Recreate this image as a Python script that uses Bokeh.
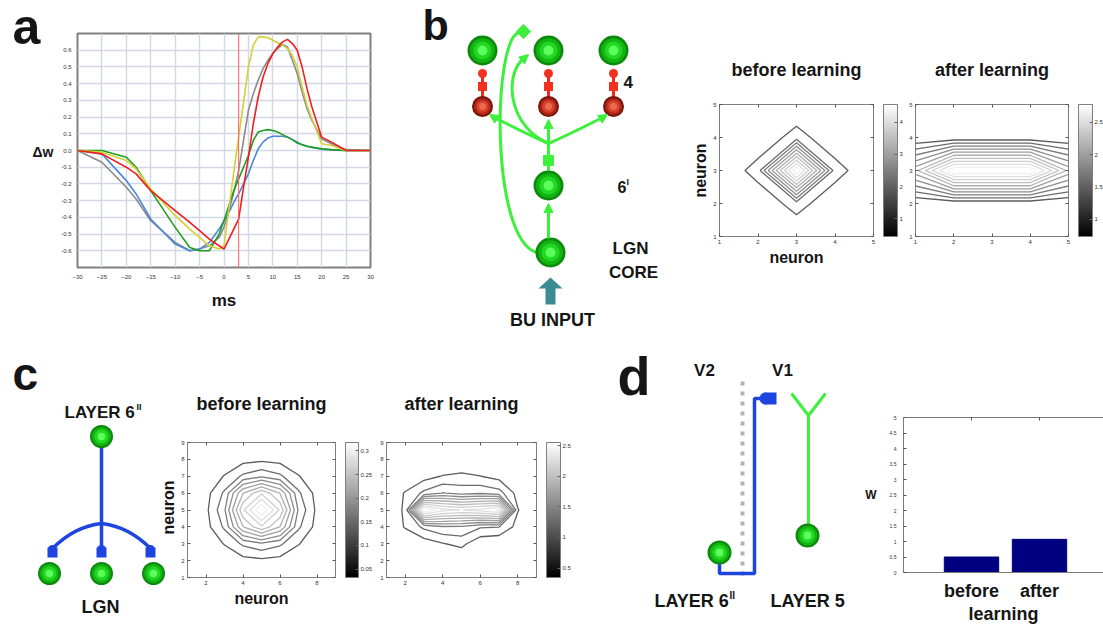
import math
import numpy as np
from bokeh.plotting import figure
from bokeh.layouts import row, column
from bokeh.models import (Label, Span, ColorBar, LinearColorMapper, FixedTicker, Title,
                          SingleIntervalTicker, LinearAxis, Range1d, Arrow, NormalHead,
                          NumeralTickFormatter, PrintfTickFormatter)
from bokeh.palettes import Greys256
from bokeh.embed import file_html
from bokeh.resources import INLINE

FONT = "Liberation Sans"

# ---------------- data ----------------
# panel a : weight change versus spike timing
ms = [-30, -25, -20, -18, -15, -10, -7, -5, -3, -1, 0, 1, 2, 3, 4, 5, 6, 7, 8, 9,
      10, 11, 12, 13, 14, 15, 16, 17, 18, 20, 22, 25, 30]
dw_gray = [0, -0.07, -0.22, -0.29, -0.42, -0.55, -0.60, -0.59, -0.57, -0.52,
           -0.46, -0.36, -0.25, -0.12, 0.06, 0.24, 0.34, 0.42, 0.49, 0.54,
           0.58, 0.61, 0.635, 0.62, 0.54, 0.46, 0.35, 0.25, 0.18, 0.07, 0.04, 0.005, 0]
dw_blue = [0, -0.02, -0.18, -0.26, -0.41, -0.56, -0.60, -0.59, -0.55, -0.47,
           -0.42, -0.37, -0.31, -0.26, -0.20, -0.14, -0.06, 0.01, 0.05, 0.075,
           0.085, 0.085, 0.085, 0.08, 0.065, 0.05, 0.035, 0.025, 0.018, 0.008, 0.004, 0, 0]
dw_green = [0, 0, -0.04, -0.10, -0.24, -0.46, -0.58, -0.60, -0.60, -0.50,
            -0.42, -0.33, -0.24, -0.17, -0.10, -0.03, 0.06, 0.11, 0.12, 0.125,
            0.12, 0.11, 0.095, 0.08, 0.065, 0.045, 0.035, 0.025, 0.02, 0.01, 0.005, 0, 0]
dw_yellow = [0, -0.01, -0.06, -0.11, -0.23, -0.39, -0.47, -0.52, -0.57, -0.59,
             -0.57, -0.35, -0.13, 0.08, 0.29, 0.50, 0.63, 0.68, 0.68, 0.675,
             0.66, 0.645, 0.63, 0.61, 0.57, 0.50, 0.38, 0.27, 0.19, 0.04, 0.03, 0, 0]
dw_red = [0, -0.02, -0.10, -0.14, -0.24, -0.36, -0.43, -0.48, -0.53, -0.57,
          -0.59, -0.53, -0.47, -0.41, -0.22, -0.04, 0.16, 0.32, 0.44, 0.52,
          0.58, 0.62, 0.65, 0.665, 0.64, 0.60, 0.50, 0.37, 0.26, 0.08, 0.05, 0, 0]
spike_time = 3

# panel b : 5x5 weight maps (rows = neuron y 1..5, cols = neuron x 1..5)
b_neurons = [1, 2, 3, 4, 5]
b_before = [[0, 0, 0, 0, 0],
            [0, 0.05, 0.68, 0.05, 0],
            [0, 0.68, 5.0, 0.68, 0],
            [0, 0.05, 0.68, 0.05, 0],
            [0, 0, 0, 0, 0]]
b_after = [[0.51, 0.51, 0.51, 0.51, 0.51],
           [0.51, 0.55, 0.55, 0.55, 0.51],
           [1.79, 3.0, 3.0, 3.0, 1.79],
           [0.51, 0.55, 0.55, 0.55, 0.51],
           [0.51, 0.51, 0.51, 0.51, 0.51]]
b_before_levels = [0.45, 0.91, 1.36, 1.82, 2.27, 2.73, 3.18, 3.64, 4.09, 4.55]
b_after_levels = [0.736, 0.963, 1.189, 1.416, 1.642, 1.868, 2.095, 2.321, 2.547, 2.774]

# panel c : 9x9 weight maps
c_neurons = [1, 2, 3, 4, 5, 6, 7, 8, 9]
c_before = [[0, 0, 0, 0, 0, 0, 0, 0, 0],
            [0, 0, 0.008, 0.02, 0.024, 0.02, 0.008, 0, 0],
            [0, 0.008, 0.034, 0.07, 0.09, 0.07, 0.034, 0.008, 0],
            [0, 0.02, 0.07, 0.19, 0.25, 0.19, 0.07, 0.02, 0],
            [0, 0.024, 0.09, 0.25, 0.35, 0.25, 0.09, 0.024, 0],
            [0, 0.02, 0.07, 0.19, 0.25, 0.19, 0.07, 0.02, 0],
            [0, 0.008, 0.034, 0.07, 0.09, 0.07, 0.034, 0.008, 0],
            [0, 0, 0.008, 0.02, 0.024, 0.02, 0.008, 0, 0],
            [0, 0, 0, 0, 0, 0, 0, 0, 0]]
c_after = [[0.1, 0.1, 0.1, 0.1, 0.1, 0.1, 0.1, 0.1, 0.1],
           [0.1, 0.1, 0.1, 0.1, 0.1, 0.1, 0.1, 0.1, 0.1],
           [0.1, 0.1, 0.2, 0.33, 0.42, 0.15, 0.1, 0.1, 0.1],
           [0.1, 0.37, 0.65, 0.8, 0.8, 0.62, 0.6, 0.25, 0.1],
           [0.1, 0.4, 2.8, 2.4, 2.3, 2.4, 2.6, 0.36, 0.1],
           [0.1, 0.37, 0.65, 0.85, 0.75, 0.8, 0.7, 0.25, 0.1],
           [0.1, 0.1, 0.25, 0.36, 0.4, 0.35, 0.25, 0.1, 0.1],
           [0.1, 0.1, 0.1, 0.1, 0.12, 0.1, 0.1, 0.1, 0.1],
           [0.1, 0.1, 0.1, 0.1, 0.1, 0.1, 0.1, 0.1, 0.1]]
c_before_levels = [0.032, 0.064, 0.095, 0.127, 0.159, 0.191, 0.223, 0.255, 0.286, 0.318]
c_after_levels = [0.345, 0.591, 0.836, 1.082, 1.327, 1.573, 1.818, 2.064, 2.309, 2.555]

# panel d : bar chart
w_pos = [1, 2]
w_labels = ["before", "after"]
w_values = [0.50, 1.07]

# ---------------- helpers ----------------
G_LINE = "#3cf03c"
GREEN_SH = ["#0b8a0b", "#14b414", "#22d822", "#5cff5c"]
RED_SH = ["#7a130b", "#ad2618", "#d4412c", "#ee6a4f"]
BLUE = "#1f45e0"
TEAL = "#3b8b93"
TXT = "#151515"


def gray_hex(g):
    v = int(round(255 * g))
    return "#%02x%02x%02x" % (v, v, v)


def add_text(p, x, base, text, size, align="left", angle=0.0, mid=None):
    """Text in a diagram figure (data units = page pixels); base = wanted baseline."""
    y = mid if mid is not None else base - 0.32 * size
    p.add_layout(Label(x=x, y=y, text=text, text_font=FONT, text_font_size=f"{size}px",
                       text_font_style="bold", text_color=TXT, text_align=align,
                       text_baseline="middle", angle=angle))


def diag(x0, y0, w, h):
    p = figure(width=w, height=h, x_range=Range1d(x0, x0 + w), y_range=Range1d(y0 + h, y0),
               x_axis_location=None, y_axis_location=None, min_border=0, frame_align=False,
               output_backend="svg", toolbar_location=None)
    p.grid.visible = False
    p.outline_line_color = None
    p.background_fill_color = "white"
    p.border_fill_color = "white"
    return p


def ball(p, xs, ys, r, shades):
    for f, c in zip([1.0, 0.82, 0.6, 0.33], shades):
        p.circle(x=xs, y=ys, radius=r * f, fill_color=c, line_color=None)


def style_axis(ax, size="6px"):
    ax.axis_line_color = None
    ax.major_tick_in = 3
    ax.major_tick_out = 0
    ax.major_tick_line_color = "#555555"
    ax.minor_tick_line_color = None
    ax.major_label_text_font = FONT
    ax.major_label_text_font_size = size
    ax.major_label_text_color = "#333333"
    ax.major_label_standoff = 3
    ax.axis_label_text_font = FONT
    ax.axis_label_text_font_style = "bold"
    ax.axis_label_text_color = TXT


def blank_axis(ticks):
    ax = LinearAxis(ticker=FixedTicker(ticks=ticks))
    style_axis(ax)
    ax.major_label_overrides = {t: "" for t in ticks}
    ax.major_label_standoff = 0
    return ax


def add_title(p, text, standoff, offset=0):
    p.add_layout(Title(text=text, align="center", text_font=FONT, text_font_size="18px",
                       text_font_style="bold", text_color=TXT, standoff=standoff,
                       offset=offset), "above")


def chart(w, h, bl, br, bt, bb, xr, yr):
    p = figure(width=w, height=h, x_range=Range1d(*xr), y_range=Range1d(*yr),
               output_backend="svg", toolbar_location=None, frame_align=False,
               min_border_left=bl, min_border_right=br, min_border_top=bt, min_border_bottom=bb,
               background_fill_color="white", border_fill_color="white")
    p.outline_line_color = "#808080"
    p.outline_line_width = 1
    style_axis(p.below[0])
    style_axis(p.left[0])
    return p


def contour_chart(w, h, bl, br, bt, bb, grid, z, levels, xticks, yticks, cb_ticks, cb_fmt, cb_w):
    p = chart(w, h, bl, br, bt, bb, (grid[0], grid[-1]), (grid[0], grid[-1]))
    p.grid.visible = False
    n = len(levels)
    cols = [gray_hex(0.36 + 0.58 * i / (n - 1)) for i in range(n)]
    p.contour(x=grid, y=grid, z=np.array(z, dtype=float), levels=levels,
              line_color=cols, line_width=1.3)
    p.below[0].ticker = FixedTicker(ticks=xticks)
    p.left[0].ticker = FixedTicker(ticks=yticks)
    p.add_layout(blank_axis(xticks), "above")
    p.add_layout(blank_axis(yticks), "right")
    fw = w - bl - br
    fh = h - bt - bb
    mapper = LinearColorMapper(palette=Greys256, low=levels[0], high=levels[-1])
    cb = ColorBar(color_mapper=mapper, location=(fw + 10, 0), width=cb_w, height=fh,
                  padding=0, margin=0, ticker=FixedTicker(ticks=cb_ticks),
                  formatter=NumeralTickFormatter(format=cb_fmt),
                  major_label_text_font=FONT, major_label_text_font_size="6px",
                  major_label_text_color="#333333",
                  major_tick_in=3, major_tick_out=0, major_tick_line_color="#666666",
                  minor_tick_line_color=None, label_standoff=2, bar_line_color="#808080",
                  border_line_color=None, background_fill_alpha=0)
    p.add_layout(cb)
    return p


def neuron_label(ax):
    ax.axis_label = "neuron"
    ax.axis_label_text_font_size = "16px"
    ax.axis_label_standoff = 2


# ---------------- panel a ----------------
pa0 = diag(0, 0, 58, 330)
add_text(pa0, 12, 0, "a", 50, mid=26)
add_text(pa0, 32, 0, "Δw", 14, mid=151)

pa = chart(352, 330, 17, 40, 33, 63, (-30, 30), (-0.7, 0.7))
pa.outline_line_width = 2
xa_a = pa.below[0]
ya_a = pa.left[0]
xa_a.ticker = SingleIntervalTicker(interval=5)
ya_a.ticker = SingleIntervalTicker(interval=0.1)
ya_a.formatter = PrintfTickFormatter(format="%.1f")
ya_a.major_label_standoff = 2
xa_a.major_tick_line_color = None
ya_a.major_tick_line_color = None
pa.xgrid.ticker = SingleIntervalTicker(interval=5)
pa.ygrid.ticker = SingleIntervalTicker(interval=0.1)
pa.grid.grid_line_color = "#d2d8e6"
pa.grid.grid_line_width = 1.5
xa_a.axis_label = "ms"
xa_a.axis_label_text_font_size = "17px"
xa_a.axis_label_standoff = 9
for ys, col in [(dw_gray, "#8a8a8a"), (dw_blue, "#4a88dd"), (dw_green, "#1e9e1e"),
                (dw_yellow, "#d6cf35"), (dw_red, "#f01e1e")]:
    pa.line(ms, ys, line_color=col, line_width=1.6)
pa.add_layout(Span(location=spike_time, dimension="height", line_color="#ff6060", line_width=1))

# ---------------- panel b diagram ----------------
pb = diag(410, 0, 268, 330)
top_x = [482, 548, 613]
pb.bezier(x0=[536], y0=[252], x1=[518], y1=[32], cx0=[490], cy0=[238], cx1=[492], cy1=[42],
          line_color=G_LINE, line_width=3)
pb.scatter(x=[523], y=[31], marker="square", size=10, angle=math.pi / 4,
           fill_color=G_LINE, line_color=G_LINE)
pb.add_layout(Arrow(x_start=548, y_start=238, x_end=548, y_end=203, line_color=G_LINE, line_width=3,
                    end=NormalHead(size=9, fill_color=G_LINE, line_color=G_LINE)))
pb.line(x=[548, 548], y=[170, 143], line_color=G_LINE, line_width=3)
pb.scatter(x=[548], y=[160], marker="square", size=10, fill_color=G_LINE, line_color=G_LINE)
pb.add_layout(Arrow(x_start=548, y_start=143, x_end=548, y_end=119, line_color=G_LINE, line_width=3,
                    end=NormalHead(size=9, fill_color=G_LINE, line_color=G_LINE)))
pb.bezier(x0=[548, 548], y0=[143, 143], x1=[492, 604], y1=[116, 116],
          cx0=[525, 571], cy0=[133, 133], cx1=[506, 590], cy1=[123, 123],
          line_color=G_LINE, line_width=3)
for xs, xe in [(497, 489), (599, 607)]:
    pb.add_layout(Arrow(x_start=xs, y_start=119, x_end=xe, y_end=114, line_color=G_LINE, line_width=1,
                        end=NormalHead(size=9, fill_color=G_LINE, line_color=G_LINE)))
pb.bezier(x0=[548], y0=[143], x1=[523], y1=[58], cx0=[508], cy0=[126], cx1=[503], cy1=[75],
          line_color=G_LINE, line_width=3)
pb.add_layout(Arrow(x_start=519, y_start=62, x_end=528, y_end=54, line_color=G_LINE, line_width=1,
                    end=NormalHead(size=9, fill_color=G_LINE, line_color=G_LINE)))
for x in top_x:
    pb.line(x=[x, x], y=[73, 100], line_color="#ee2a1a", line_width=3)
pb.circle(x=top_x, y=[73] * 3, radius=4.5, fill_color="#f23020", line_color=None)
pb.scatter(x=top_x, y=[86] * 3, marker="square", size=9, fill_color="#f23020", line_color=None)
ball(pb, top_x, [106] * 3, 10.5, RED_SH)
ball(pb, top_x, [50] * 3, 15, GREEN_SH)
ball(pb, [548], [185], 15, GREEN_SH)
ball(pb, [550], [252], 15, GREEN_SH)
pb.patch(x=[545, 555, 555, 562, 550, 538, 545], y=[304, 304, 288, 288, 277, 288, 288],
         fill_color=TEAL, line_color=None)
add_text(pb, 422, 38, "b", 43)
add_text(pb, 623, 87, "4", 17)
add_text(pb, 617, 192, "6", 16)
add_text(pb, 626, 184, "I", 9)
add_text(pb, 630, 253, "LGN", 17, align="center")
add_text(pb, 633, 277, "CORE", 17, align="center")
add_text(pb, 552, 325, "BU INPUT", 18, align="center")

# ---------------- panel b contours ----------------
pb1 = contour_chart(226, 330, 41, 31, 104, 94, b_neurons, b_before, b_before_levels,
                    [1, 2, 3, 4, 5], [1, 2, 3, 4, 5], [1, 2, 3, 4], "0.[0]", 14)
add_title(pb1, "before learning", 49, offset=6)
neuron_label(pb1.below[0])
neuron_label(pb1.left[0])
pb1.left[0].axis_label_standoff = 1
pb2 = contour_chart(199, 330, 11, 35, 104, 94, b_neurons, b_after, b_after_levels,
                    [1, 2, 3, 4, 5], [1, 2, 3, 4, 5], [1, 1.5, 2, 2.5], "0.[0]", 14)
add_title(pb2, "after learning", 49)

# ---------------- panel c diagram ----------------
pc = diag(0, 330, 176, 296)
pc.line(x=[101, 101], y=[440, 550], line_color=BLUE, line_width=3.5)
pc.quadratic(x0=[101, 101], y0=[523, 523], x1=[52, 150], y1=[548, 548], cx=[74, 128], cy=[526, 526],
             line_color=BLUE, line_width=3.5)
pc.scatter(x=[52, 101, 150], y=[552, 552, 552], marker="square", size=10,
           fill_color=BLUE, line_color=None)
pc.circle(x=[52, 101, 150], y=[549, 549, 549], radius=4.5, fill_color=BLUE, line_color=None)
ball(pc, [101], [436], 11.5, GREEN_SH)
ball(pc, [49, 101, 153], [573, 573, 573], 11.5, GREEN_SH)
add_text(pc, 12, 388, "c", 46)
add_text(pc, 64, 417, "LAYER 6", 17)
add_text(pc, 136, 409, "II", 9)
add_text(pc, 100, 612, "LGN", 18, align="center")
add_text(pc, 168, 0, "neuron", 16, align="center", angle=math.pi / 2, mid=507)

# ---------------- panel c contours ----------------
pc1 = contour_chart(196, 296, 11, 37, 112, 49, c_neurons, c_before, c_before_levels,
                    [2, 4, 6, 8], c_neurons, [0.05, 0.1, 0.15, 0.2, 0.25, 0.3], "0.[00]", 13)
add_title(pc1, "before learning", 58)
neuron_label(pc1.below[0])
pc2 = contour_chart(208, 296, 14, 44, 112, 49, c_neurons, c_after, c_after_levels,
                    [2, 4, 6, 8], c_neurons, [0.5, 1, 1.5, 2, 2.5], "0.[0]", 14)
add_title(pc2, "after learning", 58)

# ---------------- panel d diagram ----------------
pd = diag(580, 330, 266, 296)
pd.line(x=[742, 742], y=[381, 578], line_color="#b4b4b4", line_width=4, line_dash="4 6")
pd.line(x=[719, 719, 754, 754, 764], y=[552, 573, 573, 398, 398], line_color=BLUE, line_width=3.5)
pd.scatter(x=[770], y=[398], marker="square", size=12, fill_color=BLUE, line_color=None)
pd.circle(x=[765], y=[398], radius=6, fill_color=BLUE, line_color=None)
pd.multi_line(xs=[[808, 808], [791, 808, 825]], ys=[[415, 527], [393, 415, 393]],
              line_color=G_LINE, line_width=3)
ball(pd, [719], [552], 12, GREEN_SH)
ball(pd, [807], [535], 12, GREEN_SH)
add_text(pd, 617, 393, "d", 54)
add_text(pd, 704, 375, "V2", 17, align="center")
add_text(pd, 782, 375, "V1", 17, align="center")
add_text(pd, 654, 606, "LAYER 6", 18)
add_text(pd, 729, 598, "II", 10)
add_text(pd, 770, 606, "LAYER 5", 18)

# ---------------- panel d bar chart ----------------
pe = figure(width=257, height=296, x_range=Range1d(0, 200 / 68), y_range=Range1d(0, 5),
            output_backend="svg", toolbar_location=None, frame_align=False,
            min_border_left=57, min_border_right=0, min_border_top=87, min_border_bottom=54,
            background_fill_color="white", border_fill_color="white")
pe.outline_line_color = None
pe.grid.visible = False
pe.vbar(x=w_pos, top=w_values, width=0.8, fill_color="#000080", line_color="#000080")
ya = pe.left[0]
style_axis(ya, "5px")
ya.axis_line_color = "#7a7a7a"
ya.ticker = SingleIntervalTicker(interval=0.5)
ya.formatter = NumeralTickFormatter(format="0.[0]")
ya.axis_label = "W"
ya.axis_label_orientation = "horizontal"
ya.axis_label_text_font_size = "12px"
ya.axis_label_standoff = 10
xa = pe.below[0]
style_axis(xa, "18px")
xa.axis_line_color = "#7a7a7a"
xa.ticker = FixedTicker(ticks=w_pos)
xa.major_label_overrides = {p: l for p, l in zip(w_pos, w_labels)}
xa.major_label_text_font_style = "bold"
xa.major_label_text_color = TXT
xa.major_tick_line_color = None
xa.major_label_standoff = 8
xa.axis_label = "learning"
xa.axis_label_text_font_size = "18px"
xa.axis_label_standoff = 0
top_ax = blank_axis(w_pos)
top_ax.axis_line_color = "#7a7a7a"
pe.add_layout(top_ax, "above")

layout = column(row(pa0, pa, pb, pb1, pb2), row(pc, pc1, pc2, pd, pe))
open("out.html", "w").write(file_html(layout, INLINE, title="figure"))
